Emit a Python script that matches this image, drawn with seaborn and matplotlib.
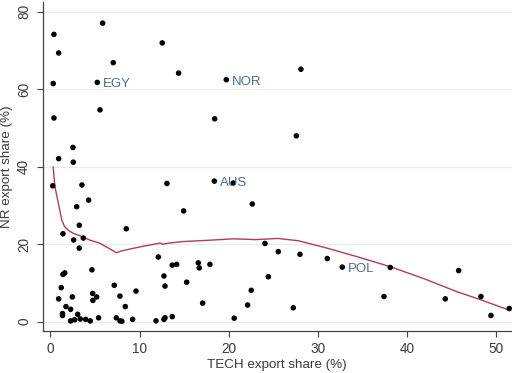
import matplotlib
matplotlib.use("Agg")
import matplotlib.pyplot as plt
import seaborn as sns
import pandas as pd

# data
tech = [5.85, 0.39, 0.92, 7.04, 0.31, 5.25, 5.55, 0.39, 2.52, 0.92,
        2.56, 0.25, 3.53, 4.28, 2.94, 3.23, 1.40, 2.60, 3.68, 3.23,
        8.50, 12.09, 1.40, 1.60, 4.65, 1.21, 0.92, 2.45, 4.73, 5.18,
        4.76, 7.15, 7.79, 9.59, 8.39, 1.74, 2.26, 1.35, 1.35, 3.05,
        2.26, 2.71, 3.34, 3.94, 4.46, 5.40, 7.38, 7.80, 8.00, 9.21,
        11.83, 12.53, 14.37, 19.71, 18.41, 13.06, 18.37, 20.49, 28.08, 27.56,
        14.93, 22.62, 13.65, 14.15, 16.57, 16.68, 17.88, 12.72, 12.84, 15.27,
        17.06, 24.05, 25.54, 24.42, 22.51, 22.10, 12.72, 12.84, 13.65, 20.60,
        27.97, 31.03, 32.71, 38.09, 45.76, 37.39, 44.26, 48.26, 49.38, 51.43,
        27.22]
nr = [77.1, 74.2, 69.4, 66.9, 61.5, 61.8, 54.7, 52.6, 45.0, 42.1,
      41.2, 35.1, 35.3, 31.4, 29.7, 24.9, 22.7, 21.1, 21.6, 19.0,
      24.0, 16.7, 12.2, 12.6, 13.4, 8.8, 5.9, 6.4, 7.3, 6.4,
      5.5, 9.4, 6.6, 7.9, 3.9, 3.9, 3.2, 2.1, 1.6, 1.9,
      0.2, 0.5, 0.7, 0.6, 0.2, 1.0, 1.0, 0.2, 0.1, 0.6,
      0.2, 72.0, 64.2, 62.5, 52.4, 35.7, 36.3, 35.8, 65.2, 48.0,
      28.6, 30.4, 14.6, 14.8, 15.2, 13.9, 14.8, 11.8, 9.2, 10.2,
      4.8, 20.2, 18.1, 11.6, 8.1, 4.3, 0.6, 1.0, 1.3, 0.9,
      17.4, 16.3, 14.1, 14.0, 13.2, 6.5, 5.9, 6.5, 1.6, 3.4,
      3.6]
codes = [""] * len(tech)
codes[5] = "EGY"
codes[53] = "NOR"
codes[56] = "AUS"
codes[82] = "POL"

# smoothed fit
fit_x = [0.3, 0.5, 0.88, 1.26, 1.55, 2.0, 2.56, 3.3, 4.5, 5.5, 6.5, 7.4, 8.0,
         10.0, 12.3, 12.6, 13.3, 14.9, 17.5, 20.5, 23.0, 25.5, 27.8, 31.0,
         34.5, 38.1, 42.0, 45.5, 48.3, 51.4]
fit_y = [40.0, 34.9, 30.6, 26.3, 24.7, 23.6, 22.8, 22.2, 21.0, 20.3, 19.0, 17.8, 18.3,
         19.3, 20.3, 20.0, 20.3, 20.7, 21.0, 21.4, 21.2, 21.5, 20.9, 19.0,
         16.7, 14.2, 11.0, 7.8, 5.6, 3.0]

df = pd.DataFrame({"tech": tech, "nr": nr, "code": codes})
fit = pd.DataFrame({"tech": fit_x, "nr": fit_y})

sns.set_style("white")
plt.rcParams["font.family"] = ["Liberation Sans", "DejaVu Sans"]

fig = plt.figure(figsize=(5.12, 3.73), dpi=100)
ax = fig.add_axes([0.0834, 0.1134, 0.9166, 0.8816])

for v in [0, 20, 40, 60, 80]:
    ax.axhline(v, color="#ebebeb", lw=0.9, zorder=0)

sns.scatterplot(data=df, x="tech", y="nr", ax=ax, color="black", s=16,
                edgecolor="none", zorder=3)
sns.lineplot(data=fit, x="tech", y="nr", ax=ax, color="#b03a62", lw=1.0,
             sort=False, zorder=2)

for _, r in df[df["code"] != ""].iterrows():
    ax.annotate(r["code"], (r["tech"], r["nr"]), xytext=(4, -3.5),
                textcoords="offset points", color="#4f6b8c", fontsize=9.5)

ax.set_xlim(-0.87, 51.74)
ax.set_ylim(-2.33, 82.6)
ax.set_xticks([0, 10, 20, 30, 40, 50])
ax.set_yticks([0, 20, 40, 60, 80])
ax.tick_params(axis="both", length=4.5, width=0.8, color="#444444",
               labelsize=9.8, labelcolor="#3a3a3a", pad=3.8, bottom=True, left=True)
for lab in ax.get_yticklabels():
    lab.set_rotation(90)
    lab.set_va("center")
ax.set_xlabel("TECH export share (%)", fontsize=9.6, color="#3a3a3a", labelpad=2)
ax.set_ylabel("NR export share (%)", fontsize=9.6, color="#3a3a3a", labelpad=3)

for side in ["top", "right"]:
    ax.spines[side].set_visible(False)
for side in ["left", "bottom"]:
    ax.spines[side].set_color("#444444")
    ax.spines[side].set_linewidth(0.9)

fig.savefig("out.png", dpi=100)
